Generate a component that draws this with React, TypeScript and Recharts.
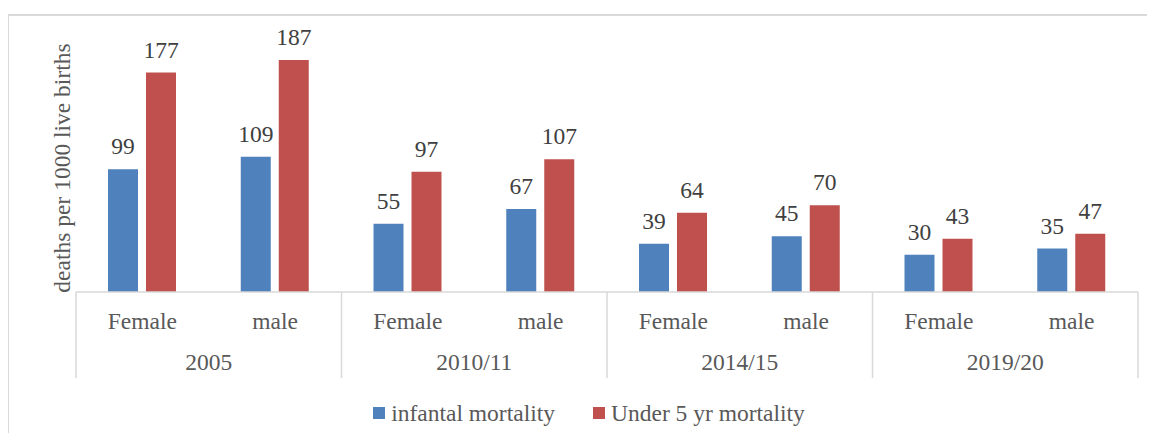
import { Bar, BarChart, LabelList, Legend, XAxis, YAxis } from 'recharts';

const categories = ['Female', 'male', 'Female', 'male', 'Female', 'male', 'Female', 'male'];
const years = ['2005', '2005', '2010/11', '2010/11', '2014/15', '2014/15', '2019/20', '2019/20'];
const infantMortality = [99, 109, 55, 67, 39, 45, 30, 35];
const under5Mortality = [177, 187, 97, 107, 64, 70, 43, 47];

const data = categories.map((sex, i) => ({
	sex,
	year: years[i],
	infant: infantMortality[i],
	under5: under5Mortality[i],
}));

const W = 1155;
const H = 441;
const M_LEFT = 76;
const M_RIGHT = 17;
const M_TOP = 44;
const AXIS_Y = 292;
const BAND = (W - M_LEFT - M_RIGHT) / categories.length;

const FONT = 'Liberation Serif, serif';
const FS = 23.5;
const TEXT = '#595959';
const GRID = '#D9D9D9';
const blue = '#4F81BD';
const red = '#C0504D';

function CategoryTick(props: any) {
	const { x, index, payload } = props;
	const left = x - BAND / 2;
	const right = x + BAND / 2;
	return (
		<g>
			<text x={x} y={AXIS_Y + 37} textAnchor="middle" fill={TEXT} fontSize={FS} fontFamily={FONT}>
				{payload.value}
			</text>
			{index % 2 === 0 && (
				<>
					<line x1={left} x2={left} y1={AXIS_Y} y2={AXIS_Y + 86} stroke={GRID} strokeWidth={1.5} />
					<text x={right} y={AXIS_Y + 78} textAnchor="middle" fill={TEXT} fontSize={FS} fontFamily={FONT}>
						{years[index]}
					</text>
				</>
			)}
			{index === categories.length - 1 && (
				<line x1={right} x2={right} y1={AXIS_Y} y2={AXIS_Y + 86} stroke={GRID} strokeWidth={1.5} />
			)}
		</g>
	);
}

// value label drawn above each bar
function BarValue(props: any) {
	const { x, y, width, value } = props;
	return (
		<text
			x={Number(x) + Number(width) / 2}
			y={Number(y) - 15}
			textAnchor="middle"
			fill="#404040"
			style={{ fontFamily: FONT, fontSize: FS }}
		>
			{value}
		</text>
	);
}

function LegendContent() {
	const items = [
		{ label: 'infantal mortality', color: blue },
		{ label: 'Under 5 yr mortality', color: red },
	];
	return (
		<div
			style={{
				height: 24,
				display: 'flex',
				alignItems: 'center',
				justifyContent: 'center',
				paddingLeft: 40,
				gap: 38,
				fontFamily: FONT,
				fontSize: FS,
				color: TEXT,
			}}
		>
			{items.map((it) => (
				<div key={it.label} style={{ display: 'flex', alignItems: 'center', gap: 6 }}>
					<span style={{ width: 12, height: 12, background: it.color, display: 'inline-block' }} />
					<span>{it.label}</span>
				</div>
			))}
		</div>
	);
}

function YLabel() {
	const cy = (M_TOP + AXIS_Y) / 2;
	return (
		<text
			x={62}
			y={cy}
			transform={`rotate(-90, 62, ${cy})`}
			textAnchor="middle"
			dominantBaseline="central"
			fill={TEXT}
			fontSize={FS}
			fontFamily={FONT}
		>
			deaths per 1000 live births
		</text>
	);
}

export default function App() {
	return (
		<div style={{ position: 'relative', width: W, height: H, margin: -8, overflow: 'hidden', background: '#fff' }}>
			<div
				style={{
					position: 'absolute',
					left: 7,
					top: 14,
					width: W,
					height: H,
					borderTop: `2px solid ${GRID}`,
					borderLeft: `2px solid ${GRID}`,
				}}
			/>
			<div style={{ position: 'absolute', left: 0, top: 0 }}>
				<BarChart
					width={W}
					height={H}
					data={data}
					margin={{ top: M_TOP, right: M_RIGHT, left: 0, bottom: 16 }}
					barSize={30}
					barGap={8}
				>
					<XAxis
						dataKey="sex"
						interval={0}
						height={H - AXIS_Y - 16 - 24}
						axisLine={{ stroke: GRID, strokeWidth: 1.5 }}
						tickLine={false}
						tick={<CategoryTick />}
					/>
					<YAxis
						domain={[0, 200]}
						width={M_LEFT}
						axisLine={false}
						tickLine={false}
						tick={false}
						label={<YLabel />}
					/>
					<Legend verticalAlign="bottom" height={24} content={<LegendContent />} />
					<Bar dataKey="infant" name="infantal mortality" fill={blue} isAnimationActive={false}>
						<LabelList dataKey="infant" content={<BarValue />} />
					</Bar>
					<Bar dataKey="under5" name="Under 5 yr mortality" fill={red} isAnimationActive={false}>
						<LabelList dataKey="under5" content={<BarValue />} />
					</Bar>
				</BarChart>
			</div>
		</div>
	);
}
